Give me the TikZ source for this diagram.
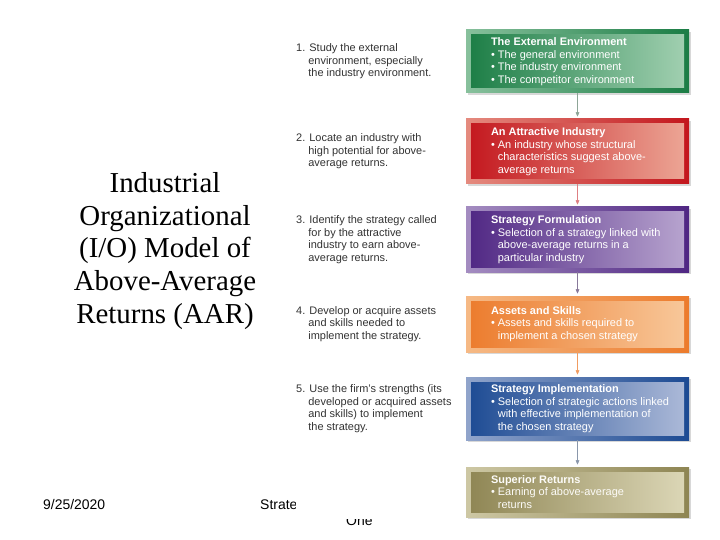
\documentclass[tikz,border=0pt]{standalone}
\usepackage{fontspec}
\setmainfont{Liberation Serif}
\setsansfont{Liberation Sans}
\usepackage{tikz}
\usetikzlibrary{arrows,positioning,shadows}

\definecolor{envdark}{HTML}{1B7D45}
\definecolor{envlight}{HTML}{A3D1B2}
\definecolor{inddark}{HTML}{C3161D}
\definecolor{indlight}{HTML}{EDA897}
\definecolor{formdark}{HTML}{4F2683}
\definecolor{formlight}{HTML}{B9A6D0}
\definecolor{skilldark}{HTML}{EC7B2C}
\definecolor{skilllight}{HTML}{F8C99C}
\definecolor{impldark}{HTML}{1C4A93}
\definecolor{impllight}{HTML}{AEBBD9}
\definecolor{retdark}{HTML}{8E8553}
\definecolor{retlight}{HTML}{DDD8B8}

\begin{document}
\begin{tikzpicture}[x=1bp,y=-1bp,>=stealth',shorten >=2.5bp,
    stage box/.style 2 args={minimum width=223bp,inner sep=0pt,
      left color=#2!80!#1,right color=#1,
      drop shadow={shadow xshift=1.5bp,shadow yshift=-2bp,opacity=0.3},
      path picture={\shade[left color=#1,right color=#2]
        ([shift={(5bp,-5bp)}]path picture bounding box.north west) rectangle
        ([shift={(-5bp,5bp)}]path picture bounding box.south east);}},
    box text/.style={align=left,inner sep=0pt,text=white,
      font=\sffamily\fontsize{11}{12.5}\selectfont},
    step note/.style={anchor=west,align=left,inner sep=0pt,text=black!80,
      font=\sffamily\fontsize{11}{12.5}\selectfont},
    footer/.style={anchor=base west,inner sep=0pt,
      font=\sffamily\fontsize{14}{16}\selectfont}]
  \useasboundingbox (0,0) rectangle (720,540);
  \coordinate (col) at (296,0);

  % footer of the slide, partly under the figure
  \node[footer] (date) at (43,509) {9/25/2020};
  \node[footer] (strate) at (260,509) {Strate};
  \node[footer] (one) at (346,525) {One};
  \fill[white] (296,0) rectangle (720,519);

  \node[font=\rmfamily\fontsize{29}{33}\selectfont,align=center] (title) at (165,251)
    {Industrial\\Organizational\\(I/O) Model of\\Above-Average\\Returns (AAR)};

  % the six stages
  \node[stage box={envdark}{envlight},minimum height=63bp] (env) at (577.5,61.5) {};
  \node[stage box={inddark}{indlight},minimum height=65bp] (ind) at (577.5,151.5) {};
  \node[stage box={formdark}{formlight},minimum height=65bp] (form) at (577.5,239.5) {};
  \node[stage box={skilldark}{skilllight},minimum height=56bp] (skill) at (577.5,324) {};
  \node[stage box={impldark}{impllight},minimum height=63bp] (impl) at (577.5,408.5) {};
  \node[stage box={retdark}{retlight},minimum height=50bp] (ret) at (577.5,492) {};

  \node[box text,right=25bp of env.west] (envt)
    {\textbf{The External Environment}\\\textbullet\ The general environment\\
     \textbullet\ The industry environment\\\textbullet\ The competitor environment};
  \node[box text,right=25bp of ind.west] (indt)
    {\textbf{An Attractive Industry}\\\textbullet\ An industry whose structural\\
     \phantom{\textbullet\ }characteristics suggest above-\\\phantom{\textbullet\ }average returns};
  \node[box text,right=25bp of form.west] (formt)
    {\textbf{Strategy Formulation}\\\textbullet\ Selection of a strategy linked with\\
     \phantom{\textbullet\ }above-average returns in a\\\phantom{\textbullet\ }particular industry};
  \node[box text,right=25bp of skill.west] (skillt)
    {\textbf{Assets and Skills}\\\textbullet\ Assets and skills required to\\
     \phantom{\textbullet\ }implement a chosen strategy};
  \node[box text,right=25bp of impl.west] (implt)
    {\textbf{Strategy Implementation}\\\textbullet\ Selection of strategic actions linked\\
     \phantom{\textbullet\ }with effective implementation of\\\phantom{\textbullet\ }the chosen strategy};
  \node[box text,text=white!90!retlight,right=25bp of ret.west] (rett)
    {\textbf{Superior Returns}\\\textbullet\ Earning of above-average\\
     \phantom{\textbullet\ }returns};

  % the steps on the left
  \node[step note] (n1) at (col |- env)
    {1. Study the external\\\phantom{1.\ }environment, especially\\\phantom{1.\ }the industry environment.};
  \node[step note] (n2) at (col |- ind)
    {2. Locate an industry with\\\phantom{2.\ }high potential for above-\\\phantom{2.\ }average returns.};
  \node[step note] (n3) at (col |- form)
    {3. Identify the strategy called\\\phantom{3.\ }for by the attractive\\\phantom{3.\ }industry to earn above-\\\phantom{3.\ }average returns.};
  \node[step note] (n4) at (col |- skill)
    {4. Develop or acquire assets\\\phantom{4.\ }and skills needed to\\\phantom{4.\ }implement the strategy.};
  \node[step note] (n5) at (col |- impl)
    {5. Use the firm's strengths (its\\\phantom{5.\ }developed or acquired assets\\\phantom{5.\ }and skills) to implement\\\phantom{5.\ }the strategy.};

  \path[->,line width=0.6bp]
    (env) edge[draw=envdark!35!gray!70] (ind)
    (ind) edge[draw=inddark!55] (form)
    (form) edge[draw=formdark!45!gray!80] (skill)
    (skill) edge[draw=skilldark!75] (impl)
    (impl) edge[draw=impldark!40!gray!70] (ret)
    ;
\end{tikzpicture}
\end{document}
